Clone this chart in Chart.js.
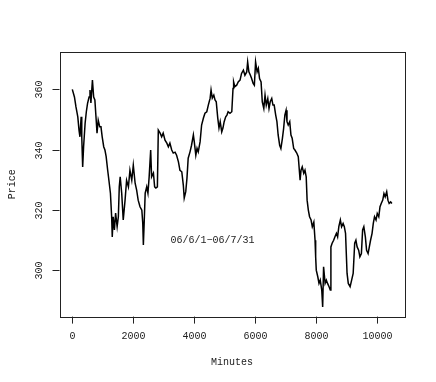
<!DOCTYPE html>
<html>
<head>
<meta charset="utf-8">
<script src="https://cdn.jsdelivr.net/npm/chart.js@4.4.1/dist/chart.umd.min.js"></script>
<style>
  body { margin: 0; background: #fff; }
  canvas { display: block; }
</style>
</head>
<body>
<canvas id="priceChart" width="436" height="382"></canvas>
<script>
// values
const minutes = [
    0, 70, 120, 180, 220, 250, 290, 310, 340, 370, 420, 460, 500, 550, 580, 610, 660, 700, 740, 790,
    810, 850, 900, 940, 980, 1030, 1070, 1110, 1160, 1200, 1250, 1290, 1310, 1340, 1380, 1420, 1470, 1510, 1540, 1570,
    1620, 1670, 1730, 1780, 1840, 1890, 1950, 2000, 2060, 2110, 2160, 2220, 2280, 2310, 2330, 2360, 2390, 2440, 2480, 2520,
    2570, 2600, 2660, 2700, 2740, 2790, 2820, 2880, 2930, 2980, 3040, 3100, 3150, 3200, 3260, 3310, 3370, 3420, 3480, 3530,
    3590, 3640, 3670, 3720, 3760, 3800, 3860, 3910, 3970, 4000, 4050, 4090, 4130, 4190, 4240, 4300, 4350, 4410, 4460, 4520,
    4550, 4590, 4640, 4680, 4720, 4770, 4810, 4850, 4900, 4940, 4980, 5030, 5070, 5110, 5170, 5230, 5270, 5290, 5330, 5390,
    5440, 5500, 5550, 5610, 5660, 5720, 5750, 5790, 5840, 5880, 5930, 5970, 6010, 6060, 6100, 6140, 6190, 6230, 6280, 6320,
    6360, 6410, 6450, 6490, 6540, 6580, 6620, 6670, 6710, 6750, 6800, 6840, 6890, 6930, 6970, 7010, 7040, 7080, 7130, 7170,
    7210, 7260, 7300, 7360, 7410, 7470, 7500, 7540, 7590, 7630, 7670, 7700, 7740, 7780, 7830, 7870, 7920, 7960, 7980, 8000,
    8050, 8090, 8130, 8180, 8210, 8240, 8290, 8330, 8370, 8420, 8460, 8480, 8520, 8570, 8610, 8660, 8700, 8740, 8790, 8830,
    8880, 8920, 8960, 9010, 9050, 9110, 9160, 9210, 9260, 9300, 9340, 9390, 9430, 9480, 9520, 9560, 9610, 9650, 9700, 9740,
    9780, 9830, 9870, 9910, 9960, 10000, 10050, 10090, 10130, 10180, 10220, 10260, 10310, 10350, 10390, 10440, 10480
];
const price = [
    360.0, 357.5, 354.2, 350.9, 346.5, 344.3, 350.9, 344.3, 334.3, 341.0, 348.8, 352.6, 355.4, 357.5, 359.8, 355.5, 363.1, 357.5, 356.5, 348.8,
    345.5, 349.8, 347.6, 347.6, 344.3, 341.0, 339.9, 337.7, 333.2, 329.9, 325.6, 317.8, 311.1, 317.8, 313.4, 319.0, 314.5, 317.8, 327.7, 331.0,
    325.6, 316.7, 323.3, 329.9, 327.7, 333.2, 329.9, 334.9, 328.9, 326.6, 323.3, 321.1, 320.0, 315.7, 308.4, 316.7, 325.6, 327.7, 325.6, 331.0,
    339.9, 331.0, 332.3, 327.7, 327.3, 327.7, 346.5, 345.5, 344.3, 345.5, 343.2, 342.2, 341.0, 342.2, 339.9, 338.9, 339.2, 338.2, 336.0, 333.2,
    332.7, 328.3, 324.0, 326.1, 330.6, 337.2, 339.3, 341.5, 344.9, 342.6, 338.2, 340.5, 339.3, 342.6, 348.2, 350.5, 352.1, 352.6, 354.8, 357.1,
    359.8, 357.1, 358.1, 356.5, 355.9, 350.5, 347.2, 349.3, 345.9, 347.2, 349.3, 350.9, 351.5, 352.6, 352.1, 352.6, 360.3, 362.5, 360.9, 361.4,
    362.5, 363.1, 365.3, 366.4, 364.7, 365.8, 369.1, 365.8, 364.7, 363.6, 362.0, 361.4, 369.1, 365.8, 367.0, 363.6, 362.5, 355.9, 353.7, 358.1,
    354.8, 357.0, 353.7, 355.9, 357.0, 354.8, 354.8, 351.5, 349.3, 344.9, 341.5, 340.4, 343.8, 347.1, 351.5, 353.1, 349.3, 348.2, 349.3, 344.9,
    343.8, 340.4, 339.9, 338.9, 337.7, 329.9, 333.2, 334.3, 332.2, 333.2, 331.0, 323.3, 320.0, 317.8, 316.7, 314.5, 316.0, 310.0, 304.5, 300.1,
    297.9, 295.7, 296.8, 293.5, 287.9, 301.2, 295.7, 296.8, 295.7, 294.6, 293.5, 307.8, 309.0, 310.0, 311.1, 312.3, 311.1, 314.5, 316.7, 314.5,
    315.6, 314.5, 312.3, 299.0, 295.7, 294.6, 296.8, 299.0, 309.0, 310.0, 307.8, 306.7, 304.5, 305.6, 313.4, 314.5, 311.1, 306.7, 305.6, 307.8,
    310.0, 312.3, 315.6, 317.8, 316.7, 318.9, 317.8, 321.1, 322.2, 323.3, 325.5, 324.4, 326.1, 323.3, 322.2, 322.7, 322.2
];
const xTicks = [0, 2000, 4000, 6000, 8000, 10000];
const yTicks = [300, 320, 340, 360];
const note = '06/6/1\u221206/7/31';
const notePos = [4600, 310];

const font = '10px "Liberation Mono", "DejaVu Sans Mono", monospace';
const ink = '#222';

// R-like frame, ticks and labels drawn from the chart's own scales
const basePlot = {
    id: 'basePlot',
    afterDraw(chart) {
        const ctx = chart.ctx;
        const area = chart.chartArea;
        const xs = chart.scales.x;
        const ys = chart.scales.y;
        ctx.save();
        ctx.strokeStyle = ink;
        ctx.fillStyle = ink;
        ctx.lineWidth = 1;
        ctx.font = font;

        ctx.strokeRect(Math.round(area.left) + 0.5, Math.round(area.top) + 0.5,
            Math.round(area.right - area.left), Math.round(area.bottom - area.top));

        ctx.textAlign = 'center';
        ctx.textBaseline = 'middle';
        xTicks.forEach(v => {
            const px = Math.round(xs.getPixelForValue(v)) + 0.5;
            ctx.beginPath();
            ctx.moveTo(px, area.bottom);
            ctx.lineTo(px, area.bottom + 7);
            ctx.stroke();
            ctx.fillText(String(v), px, area.bottom + 20);
        });
        ctx.fillText('Minutes', (area.left + area.right) / 2, area.bottom + 46);

        yTicks.forEach(v => {
            const py = Math.round(ys.getPixelForValue(v)) + 0.5;
            ctx.beginPath();
            ctx.moveTo(area.left, py);
            ctx.lineTo(area.left - 7, py);
            ctx.stroke();
            ctx.save();
            ctx.translate(area.left - 20, py);
            ctx.rotate(-Math.PI / 2);
            ctx.fillText(String(v), 0, 0);
            ctx.restore();
        });
        ctx.save();
        ctx.translate(12, (area.top + area.bottom) / 2);
        ctx.rotate(-Math.PI / 2);
        ctx.fillText('Price', 0, 0);
        ctx.restore();

        ctx.fillText(note, xs.getPixelForValue(notePos[0]), ys.getPixelForValue(notePos[1]));
        ctx.restore();
    }
};

new Chart(document.getElementById('priceChart').getContext('2d'), {
    type: 'line',
    data: {
        datasets: [{
            data: minutes.map((m, i) => ({ x: m, y: price[i] })),
            borderColor: '#000',
            borderWidth: 1.5,
            pointRadius: 0,
            tension: 0,
            fill: false
        }]
    },
    options: {
        responsive: false,
        animation: false,
        layout: { padding: { left: 59.5, right: 31.3, top: 52, bottom: 65.4 } },
        scales: {
            x: { type: 'linear', display: false, min: -420, max: 10900 },
            y: { type: 'linear', display: false, min: 284.7, max: 372.4 }
        },
        plugins: {
            legend: { display: false },
            tooltip: { enabled: false }
        }
    },
    plugins: [basePlot]
});
</script>
</body>
</html>
